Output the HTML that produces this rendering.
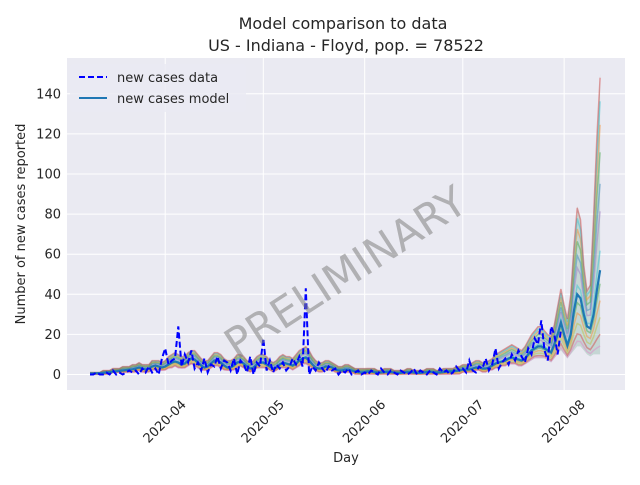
<!DOCTYPE html>
<html><head><meta charset="utf-8"><style>
body{margin:0;background:#fff;font-family:"Liberation Sans","DejaVu Sans",sans-serif;}
svg text{font-family:"DejaVu Sans","Liberation Sans",sans-serif;}
</style></head><body>
<svg id="chart" width="640" height="480" xmlns="http://www.w3.org/2000/svg">
<rect width="640" height="480" fill="#fff"/>
<text x="343" y="29" font-size="16" text-anchor="middle" fill="#262626">Model comparison to data</text>
<text x="346" y="51" font-size="16" text-anchor="middle" fill="#262626">US - Indiana - Floyd, pop. = 78522</text>
<rect x="67" y="58" width="558" height="332" fill="#eaeaf2"/>
<g id="grid"></g>
<g id="series"></g>
<text transform="translate(347,275) rotate(-33)" font-size="42" text-anchor="middle" dominant-baseline="middle" fill="#808080" fill-opacity="0.55">PRELIMINARY</text>
<g id="axes"></g>
<text x="346" y="462" font-size="13" text-anchor="middle" fill="#262626">Day</text>
<text transform="translate(25,224) rotate(-90)" font-size="13" text-anchor="middle" fill="#262626">Number of new cases reported</text>
<g>
<rect x="70" y="64" width="176" height="48" rx="3" fill="#eaeaf2" fill-opacity="0.8"/>
<line x1="79" y1="77" x2="107" y2="77" stroke="#0000ff" stroke-width="2" stroke-dasharray="6,3"/>
<text x="117" y="82" font-size="13" fill="#262626">new cases data</text>
<line x1="79" y1="98" x2="107" y2="98" stroke="#1f77b4" stroke-width="2"/>
<text x="117" y="103" font-size="13" fill="#262626">new cases model</text>
</g>
</svg>
<script>
const startDay = "2020-03-09";
const xTickLabels = ["2020-04","2020-05","2020-06","2020-07","2020-08"];
const xTickDays = [23,53,84,114,145];
const yTicks = [0,20,40,60,80,100,120,140];
const dataCases = [0,0,1,0,0,1,0,2,0,1,0,1,2,1,
2,0,3,1,4,1,3,0,8,
13,5,7,8,24,4,10,6,12,3,
6,2,8,1,5,4,9,3,7,6,
2,8,0,7,5,1,9,0,6,4,
18,2,7,1,5,3,6,2,4,8,
5,9,4,43,0,4,2,6,3,1,
4,2,3,0,2,1,3,0,1,2,0,
1,0,2,1,0,3,1,0,2,1,
0,2,1,0,1,3,0,2,1,0,
2,1,0,3,1,2,0,1,4,2,
3,1,7,2,1,4,3,8,2,5,
13,3,6,8,5,10,7,12,9,6,
13,10,18,15,27,12,7,24,20,10,22];
const modelMedian = [0.5,0.5,0.6,0.7,0.8,1,1.2,1.4,1.6,1.8,2,2.2,2.4,2.6,
3,3.5,3,2.5,3,4,4.5,4,3.5,
4,5,6,6.5,6,5,5.5,7,8,7.5,
6,4.5,3.5,4,5.5,7,7,6,4.5,3.5,
3.5,4.5,6,6.5,5.5,4,3,3.5,5,6,
6,5,4,3,3.5,5,6,5.5,5,4.5,
5.5,7,8,8.5,7,5,3.5,3,3,4,
4,3.5,2.5,2,2,2.5,2.5,2,1.5,1.2,1,
1.2,1.5,1.5,1.2,1,1,1.2,1.3,1.2,1,
0.8,0.8,1,1.2,1.2,1,0.8,0.8,1,1.2,
1.3,1.2,1,1,1.2,1.5,1.5,1.5,1.8,2,
2.5,2.5,2.5,3,3.5,3.5,3,3,3.5,4.5,
5.5,6,6.5,7,8,8.5,8,7.5,7,8,
10,12,13,14,14,13,12,11,15,20,26,
20,14.5,20,32,40,38,30,24,23,30,42,52];
const modelUpper = [1,1,1,1,2,2,2,3,3,3,4,4,4,5,5,6,5,5,5,7,7,7,6,
7,9,10,11,10,9,9,11,12,12,10,8,7,7,9,11,11,10,8,7,7,8,10,10,9,7,6,7,9,10,
10,9,7,6,7,9,10,9,9,8,10,12,13,14,12,9,7,6,6,7,7,6,5,4,4,5,5,4,3,3,3,
3,3,3,3,2,2,3,3,3,2,2,2,2,3,3,2,2,2,2,3,3,3,2,2,3,3,3,3,4,4,
5,5,5,6,7,7,6,6,7,8,10,11,12,13,14,15,14,13,12,14,17,20,22,24,24,22,20,19,25,34,43,
35,28,40,65,84,78,55,42,45,80,120,150];
const modelLower = [0,0,0,0,0,0,0,1,1,1,1,1,1,1,1,2,1,1,1,2,2,2,2,
2,3,3,4,3,3,3,4,5,4,3,2,2,2,3,4,4,3,2,2,2,2,3,4,3,2,1,2,3,3,
3,3,2,1,2,3,3,3,3,2,3,4,5,5,4,3,2,1,1,2,2,2,1,1,1,1,1,1,0,0,0,
0,0,0,0,0,0,0,0,0,0,0,0,0,0,0,0,0,0,0,0,0,0,0,0,0,0,0,0,0,0,
1,1,1,1,2,2,1,1,2,2,3,3,4,4,5,5,5,4,4,5,6,7,8,8,8,8,7,6,8,10,12,
10,8,10,12,14,14,12,10,9,10,10,10];
const ns="http://www.w3.org/2000/svg";
const X0=90, DX=3.27, Y0=374.5, DY=2.005;
function xs(d){return X0+d*DX;}
function ys(v){return Y0-v*DY;}
function mk(tag,attrs,parent){const e=document.createElementNS(ns,tag);for(const k in attrs)e.setAttribute(k,attrs[k]);parent.appendChild(e);return e;}
const grid=document.getElementById('grid'),axes=document.getElementById('axes'),ser=document.getElementById('series');
yTicks.forEach(v=>{
 const l=mk('line',{x1:67,x2:625,y1:ys(v),y2:ys(v),stroke:'#fff','stroke-width':1},grid);
 
 
 const t=mk('text',{x:61,y:ys(v)+4.5,'font-size':13,'text-anchor':'end',fill:'#262626'},axes);
 t.textContent=v;
 
 
});
xTickDays.forEach((d,i)=>{
 const l=mk('line',{x1:xs(d),x2:xs(d),y1:58,y2:390,stroke:'#fff','stroke-width':1},grid);
 
 
 const t=mk('text',{transform:`translate(${xs(d)},${422}) rotate(-45)`,'font-size':13,'text-anchor':'middle','dominant-baseline':'middle',fill:'#262626'},axes);
 t.textContent=xTickLabels[i];
 
 
});
function path(arr){return arr.map((v,i)=>(i?'L':'M')+xs(i).toFixed(1)+','+ys(v).toFixed(1)).join(' ');}
let bd=path(modelUpper);
for(let i=modelLower.length-1;i>=0;i--)bd+=' L'+xs(i).toFixed(1)+','+ys(modelLower[i]).toFixed(1);
const band=mk('path',{d:bd+' Z',fill:'#8fb8a8','fill-opacity':0.4},ser);


const cols=['#e377c2','#d62728','#bcbd22','#ff7f0e','#2ca02c','#17becf','#9467bd','#1f77b4','#2ca02c','#ff7f0e','#17becf','#d62728'];
const fr=[0.05,0.12,0.22,0.32,0.42,0.55,0.65,0.72,0.8,0.87,0.93,0.99];
fr.forEach((f,k)=>{
 const arr=modelUpper.map((u,i)=>{const m=modelMedian[i];return f<0.5? modelLower[i]+(m-modelLower[i])*f*2 : m+(u-m)*(f-0.5)*2;});
 const p=mk('path',{d:path(arr),fill:'none',stroke:cols[k],'stroke-opacity':0.4,'stroke-width':1.5},ser);
 
 
});
const med=mk('path',{d:path(modelMedian),fill:'none',stroke:'#1f77b4','stroke-width':2.2},ser);


const dat=mk('path',{d:path(dataCases),fill:'none',stroke:'#0000ff','stroke-width':2,'stroke-dasharray':'6,3'},ser);


</script>
</body></html>
